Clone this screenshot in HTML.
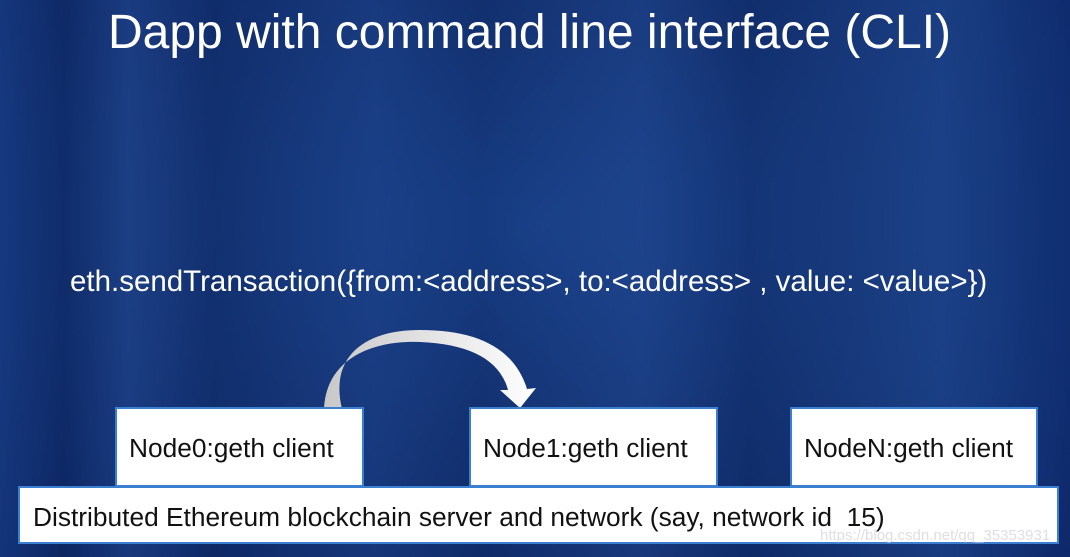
<!DOCTYPE html>
<html><head><style>
body{margin:0;width:1070px;height:557px;overflow:hidden;font-family:"Liberation Sans",sans-serif;}
.bg{position:absolute;left:0;top:0;width:1070px;height:557px;
background:
linear-gradient(90deg,rgba(40,90,180,0.3) 0%,rgba(0,0,0,0) 6%,rgba(60,110,200,0.25) 12%,rgba(0,0,0,0) 20%,rgba(50,100,190,0.2) 35%,rgba(0,0,0,0) 45%,rgba(60,110,200,0.2) 60%,rgba(0,0,0,0) 70%,rgba(60,120,210,0.25) 88%,rgba(20,60,150,0.2) 100%),
radial-gradient(ellipse at 50% 40%,#173c82 0%,#12306f 45%,#0c2460 100%);}
.t{position:absolute;color:#fff;white-space:nowrap}
.box{position:absolute;background:#fff;border:2px solid #3a7fd0;box-sizing:border-box;color:#111;font-size:26.3px;white-space:nowrap}
</style></head><body>
<div class="bg"></div>
<div class="t" style="left:108px;top:5px;font-size:48px">Dapp with command line interface (CLI)</div>
<div class="t" style="left:70px;top:265px;font-size:29.5px">eth.sendTransaction({from:&lt;address&gt;, to:&lt;address&gt; , value: &lt;value&gt;})</div>
<svg style="position:absolute;left:0;top:0" width="1070" height="557">
<defs><linearGradient id="g" x1="0" x2="1"><stop offset="0" stop-color="#c8c8c8"/><stop offset="1" stop-color="#ffffff"/></linearGradient></defs>
<path d="M324 409 C326 360 370 340 420 342 C470 344 500 360 508 390 L500 390 L520 408 L536 388 L527 389 C515 350 480 330 420 330 C360 330 330 360 342 409 Z" fill="url(#g)"/>
</svg>
<div class="box" style="left:115px;top:407px;width:249px;height:80px;padding:24px 0 0 12px">Node0:geth client</div>
<div class="box" style="left:469px;top:407px;width:249px;height:80px;padding:24px 0 0 12px">Node1:geth client</div>
<div class="box" style="left:790px;top:407px;width:248px;height:80px;padding:24px 0 0 12px">NodeN:geth client</div>
<div class="box" style="left:18px;top:486px;width:1041px;height:58px;padding:14px 0 0 13px">Distributed Ethereum blockchain server and network (say, network id&nbsp; 15)</div>
<div class="t" style="left:820px;top:527px;font-size:15px;color:rgba(200,200,210,0.6)">https://blog.csdn.net/qq_35353931</div>
</body></html>
